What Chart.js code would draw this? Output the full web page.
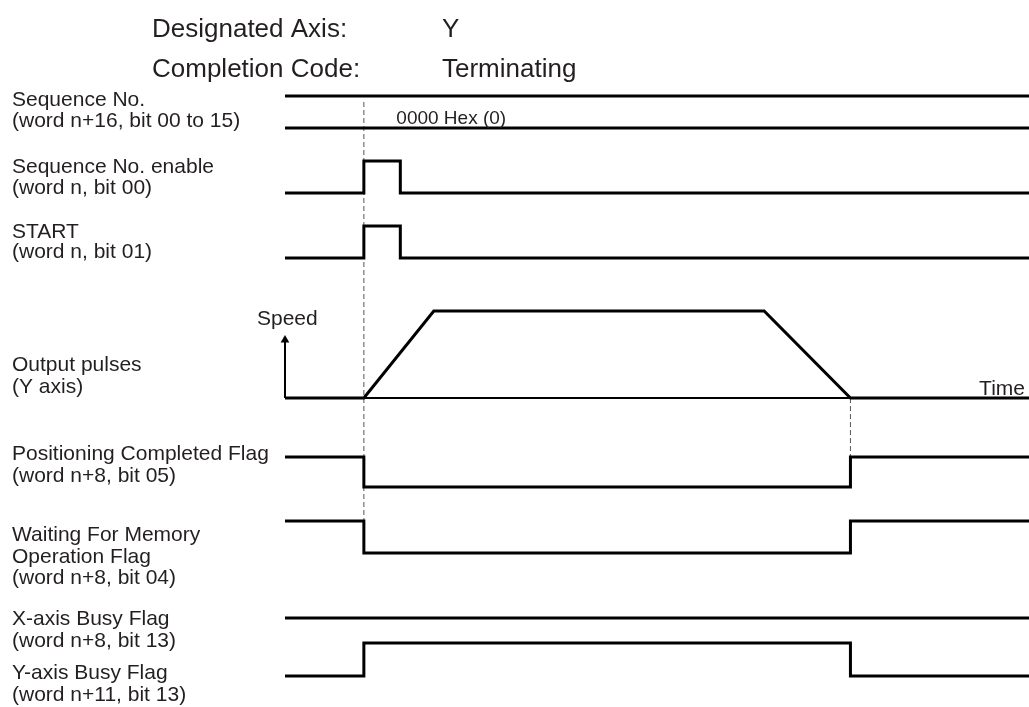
<!DOCTYPE html>
<html><head><meta charset="utf-8">
<script src="https://cdn.jsdelivr.net/npm/chart.js@4.4.1/dist/chart.umd.min.js"></script>
<style>html,body{margin:0;padding:0;background:#fff;overflow:hidden}canvas{display:block}</style>
</head><body>
<canvas id="c" width="1029" height="707"></canvas>
<script>
// ---------------- DATA (time in arbitrary units, levels 0 = OFF / 1 = ON) ----------------
const timeStart   = 0;
const tCommand    = 10.6;  // Sequence No. enable & START turn ON, pulse output starts
const tPulseEnd   = 15.5;  // Sequence No. enable & START turn OFF
const tAccelEnd   = 20.0;  // acceleration finished
const tDecelStart = 64.4;  // deceleration begins
const tStop       = 76.0;  // pulse output stops
const timeEnd     = 100;

const seqNoValue = '0000 Hex (0)';
const seqNoTimes = [timeStart, timeEnd];

const enableTimes  = [timeStart, tCommand, tPulseEnd, timeEnd];
const enableLevels = [0, 1, 0, 0];

const startTimes  = [timeStart, tCommand, tPulseEnd, timeEnd];
const startLevels = [0, 1, 0, 0];

const speedTimes  = [timeStart, tCommand, tAccelEnd, tDecelStart, tStop, timeEnd];
const speedValues = [0, 0, 100, 100, 0, 0];   // % of target speed

const posCompTimes  = [timeStart, tCommand, tStop, timeEnd];
const posCompLevels = [1, 0, 1, 1];

const waitingTimes  = [timeStart, tCommand, tStop, timeEnd];
const waitingLevels = [1, 0, 1, 1];

const xBusyTimes  = [timeStart, timeEnd];
const xBusyLevels = [0, 0];

const yBusyTimes  = [timeStart, tCommand, tStop, timeEnd];
const yBusyLevels = [0, 1, 0, 0];

const markerTimes = [tCommand, tStop];

const headerRows = [['Designated Axis:', 'Y'], ['Completion Code:', 'Terminating']];
const signalLabels = [
  ['Sequence No.', '(word n+16, bit 00 to 15)'],
  ['Sequence No. enable', '(word n, bit 00)'],
  ['START', '(word n, bit 01)'],
  ['Output pulses', '(Y axis)'],
  ['Positioning Completed Flag', '(word n+8, bit 05)'],
  ['Waiting For Memory', 'Operation Flag', '(word n+8, bit 04)'],
  ['X-axis Busy Flag', '(word n+8, bit 13)'],
  ['Y-axis Busy Flag', '(word n+11, bit 13)']
];

// ---------------- LAYOUT (lane positions on the vertical scale) ----------------
const LANES = {
  seqNo:   {hi: 96,  lo: 128},
  enable:  {hi: 161, lo: 193},
  start:   {hi: 226, lo: 258},
  speed:   {top: 311, base: 398, axisTop: 340},
  posComp: {hi: 457, lo: 487},
  waiting: {hi: 521, lo: 553},
  xBusy:   {hi: 585, lo: 618},
  yBusy:   {hi: 643, lo: 676}
};
const MARKER_SPANS = [[102, 521], [398, 457]];
const LABEL_Y = [[100,121],[167,188],[232,252],[365,387],[454,476],[535,557,578],[619,641],[673,695]];
const INK = '#231f20';
const FONT = '"Liberation Sans", Arial, Helvetica, sans-serif';

function lanePoints(times, levels, lane) {
  return times.map((t, i) => ({x: t, y: lane.lo + levels[i] * (lane.hi - lane.lo)}));
}
function signal(times, levels, lane) {
  return {data: lanePoints(times, levels, lane), stepped: 'before', borderColor: '#000',
          borderWidth: 3, pointRadius: 0, clip: false, order: 1};
}

const datasets = [
  {data: seqNoTimes.map(t => ({x: t, y: LANES.seqNo.hi})), borderColor: '#000', borderWidth: 3, pointRadius: 0, clip: false, order: 1},
  {data: seqNoTimes.map(t => ({x: t, y: LANES.seqNo.lo})), borderColor: '#000', borderWidth: 3, pointRadius: 0, clip: false, order: 1},
  signal(enableTimes, enableLevels, LANES.enable),
  signal(startTimes, startLevels, LANES.start),
  {data: speedTimes.map((t, i) => ({x: t, y: LANES.speed.base + speedValues[i] / 100 * (LANES.speed.top - LANES.speed.base)})),
   borderColor: '#000', borderWidth: 3, pointRadius: 0, clip: false, order: 1},
  // time axis of the speed graph
  {data: [{x: timeStart, y: LANES.speed.base}, {x: timeEnd, y: LANES.speed.base}], borderColor: '#000', borderWidth: 2, pointRadius: 0, clip: false, order: 2},
  // speed axis with arrow
  {data: [{x: timeStart, y: LANES.speed.base}, {x: timeStart, y: LANES.speed.axisTop}], borderColor: '#000', borderWidth: 2,
   pointRadius: [0, 5], pointStyle: 'triangle', pointBackgroundColor: '#000', pointBorderColor: '#000', pointBorderWidth: 0, clip: false, order: 2},
  signal(posCompTimes, posCompLevels, LANES.posComp),
  signal(waitingTimes, waitingLevels, LANES.waiting),
  signal(xBusyTimes, xBusyLevels, LANES.xBusy),
  signal(yBusyTimes, yBusyLevels, LANES.yBusy)
];
markerTimes.forEach((t, i) => datasets.push({
  data: [{x: t, y: MARKER_SPANS[i][0]}, {x: t, y: MARKER_SPANS[i][1]}],
  borderColor: '#555', borderWidth: 1, borderDash: [5, 3], pointRadius: 0, clip: false, order: 5
}));

const textPlugin = {
  id: 'texts',
  afterDraw(chart) {
    const ctx = chart.ctx;
    ctx.save();
    ctx.fillStyle = INK;
    ctx.textAlign = 'left';
    ctx.textBaseline = 'middle';
    ctx.font = '26px ' + FONT;
    headerRows.forEach((r, i) => {
      const y = 30 + i * 40;
      ctx.fillText(r[0], 152, y);
      ctx.fillText(r[1], 442, y);
    });
    ctx.font = '21px ' + FONT;
    signalLabels.forEach((lines, i) => lines.forEach((s, j) => ctx.fillText(s, 12, LABEL_Y[i][j])));
    const xs = chart.scales.x;
    ctx.textBaseline = 'alphabetic';
    ctx.font = '19px ' + FONT;
    ctx.fillText(seqNoValue, xs.getPixelForValue(tPulseEnd) - 4, 124);
    ctx.font = '21px ' + FONT;
    ctx.fillText('Speed', 257, 325);
    ctx.textAlign = 'right';
    ctx.fillText('Time', 1025, 395);
    ctx.restore();
  }
};

new Chart(document.getElementById('c'), {
  type: 'scatter',
  data: {datasets},
  options: {
    responsive: false, animation: false, devicePixelRatio: 1,
    showLine: true,
    layout: {autoPadding: false, padding: {left: 285, right: 0, top: 0, bottom: 0}},
    plugins: {legend: {display: false}, tooltip: {enabled: false}},
    elements: {line: {tension: 0, borderJoinStyle: 'miter', borderCapStyle: 'butt', fill: false}, point: {radius: 0, hoverRadius: 0}},
    scales: {
      x: {type: 'linear', min: timeStart, max: timeEnd, display: false},
      y: {type: 'linear', min: 0, max: 707, reverse: true, display: false}
    }
  },
  plugins: [textPlugin]
});
</script>
</body></html>
